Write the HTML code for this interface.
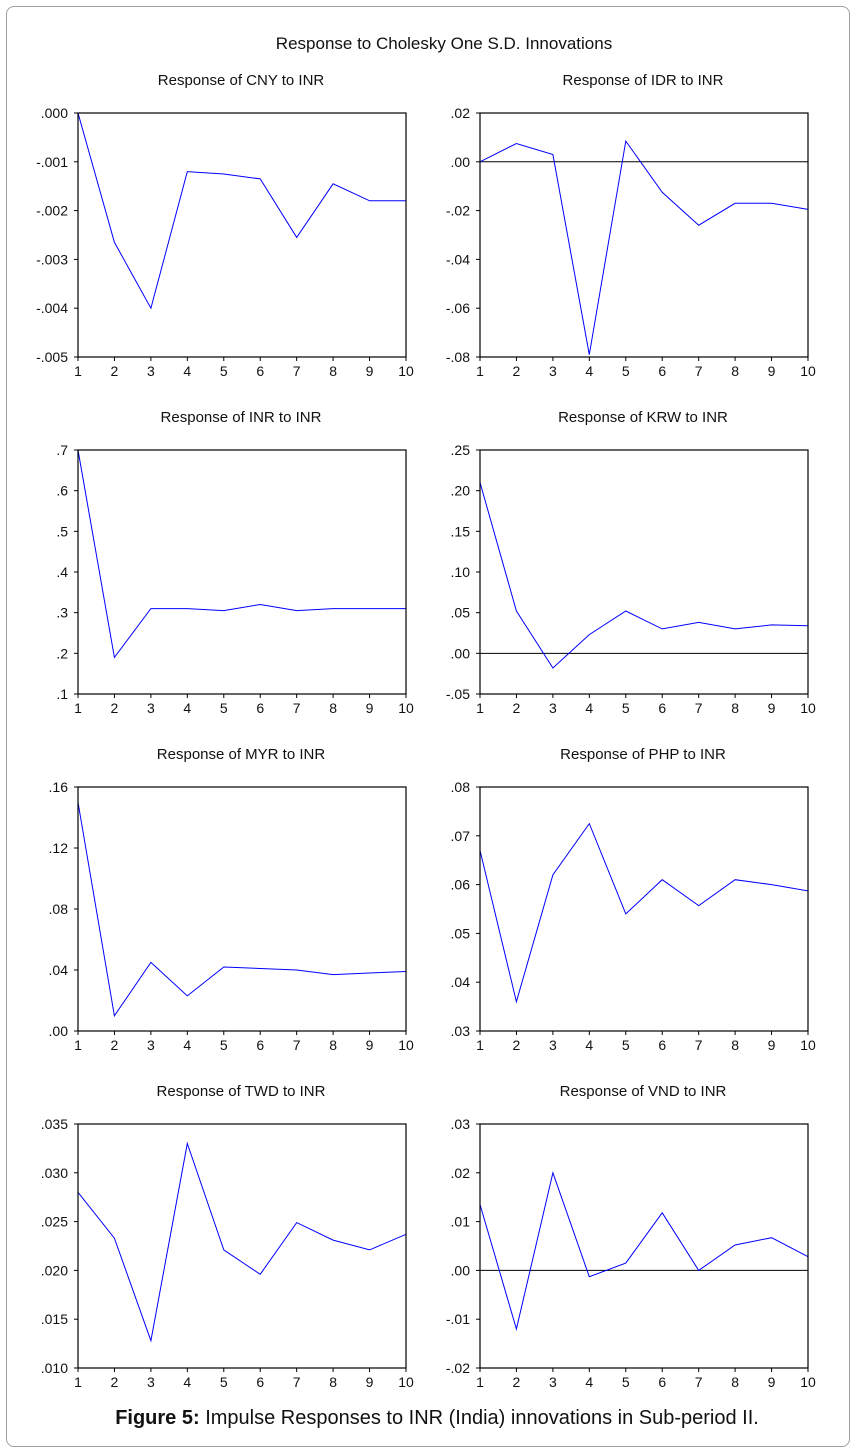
<!DOCTYPE html>
<html><head><meta charset="utf-8">
<style>
html,body{margin:0;padding:0;background:#fff;}
body{width:857px;height:1454px;position:relative;overflow:hidden;font-family:"Liberation Sans",Arial,sans-serif;}
#frame{position:absolute;left:6px;top:6px;width:844px;height:1441px;border:1px solid #a0a0a0;border-radius:8px;box-sizing:border-box;}
#caption{position:absolute;left:0;width:874px;top:1407px;text-align:center;font-size:20px;color:#111;}
</style></head>
<body>
<div id="frame"></div>
<svg id="chart" width="857" height="1454" style="position:absolute;left:0;top:0"></svg>
<div id="caption"><b>Figure 5:</b> Impulse Responses to INR (India) innovations in Sub-period II.</div>
<script>
const periods = [1,2,3,4,5,6,7,8,9,10];
const titles = ["Response of CNY to INR","Response of IDR to INR","Response of INR to INR","Response of KRW to INR","Response of MYR to INR","Response of PHP to INR","Response of TWD to INR","Response of VND to INR"];
const cnyValues = [0,-0.00265,-0.0040,-0.0012,-0.00125,-0.00135,-0.00255,-0.00145,-0.0018,-0.0018];
const idrValues = [0,0.0075,0.003,-0.079,0.0085,-0.0125,-0.026,-0.017,-0.017,-0.0195];
const inrValues = [0.70,0.19,0.31,0.31,0.305,0.32,0.305,0.31,0.31,0.31];
const krwValues = [0.21,0.052,-0.018,0.023,0.052,0.030,0.038,0.030,0.035,0.034];
const myrValues = [0.15,0.01,0.045,0.023,0.042,0.041,0.040,0.037,0.038,0.039];
const phpValues = [0.067,0.036,0.062,0.0725,0.054,0.061,0.0557,0.061,0.060,0.0587];
const twdValues = [0.028,0.0233,0.0128,0.033,0.0221,0.0196,0.0249,0.0231,0.0221,0.0237];
const vndValues = [0.0135,-0.012,0.020,-0.0013,0.0015,0.0118,0,0.0052,0.0067,0.0028];
const cnyTicks = [".000","-.001","-.002","-.003","-.004","-.005"];
const idrTicks = [".02",".00","-.02","-.04","-.06","-.08"];
const inrTicks = [".7",".6",".5",".4",".3",".2",".1"];
const krwTicks = [".25",".20",".15",".10",".05",".00","-.05"];
const myrTicks = [".16",".12",".08",".04",".00"];
const phpTicks = [".08",".07",".06",".05",".04",".03"];
const twdTicks = [".035",".030",".025",".020",".015",".010"];
const vndTicks = [".03",".02",".01",".00","-.01","-.02"];
const series = [cnyValues,idrValues,inrValues,krwValues,myrValues,phpValues,twdValues,vndValues];
const tickSets = [cnyTicks,idrTicks,inrTicks,krwTicks,myrTicks,phpTicks,twdTicks,vndTicks];
const names = ["cny","idr","inr","krw","myr","php","twd","vnd"];

const svg = document.getElementById('chart');
const NS = "http://www.w3.org/2000/svg";
function mk(tag, attrs, parent){const e=document.createElementNS(NS,tag);for(const k in attrs)e.setAttribute(k,attrs[k]);(parent||svg).appendChild(e);return e;}

const mainT = mk('text',{x:444,y:49,'text-anchor':'middle','font-size':17,fill:'#111'});
mainT.textContent = "Response to Cholesky One S.D. Innovations";



const lefts=[78,480], W=328, tops=[113,450,787,1124], H=244;
for(let i=0;i<8;i++){
  const L=lefts[i%2], T=tops[Math.floor(i/2)];
  const g=mk('g',{});
  
  
  const ticks=tickSets[i];
  const tv=ticks.map(s=>parseFloat(s.replace(/^(-?)\./,'$10.')));
  const ymax=tv[0], ymin=tv[tv.length-1];
  const y=v=>T+(ymax-v)/(ymax-ymin)*H;
  const x=p=>L+(p-1)/(periods.length-1)*W;
  const t=mk('text',{x:L+W/2-1,y:T-28,'text-anchor':'middle','font-size':15,fill:'#111'},g);
  t.textContent=titles[i];
  
  
  ticks.forEach((s,k)=>{
    const yy=y(tv[k]);
    mk('line',{x1:L-4,x2:L,y1:yy,y2:yy,stroke:'#000','stroke-width':1},g);
    const tl=mk('text',{x:L-10,y:yy+5,'text-anchor':'end','font-size':14,fill:'#111'},g);
    tl.textContent=s;
    
    
  });
  periods.forEach(p=>{
    mk('line',{x1:x(p),x2:x(p),y1:T+H,y2:T+H+4,stroke:'#000','stroke-width':1},g);
    const xl=mk('text',{x:x(p),y:T+H+19,'text-anchor':'middle','font-size':14,fill:'#111'},g);
    xl.textContent=p;
    
    
  });
  if(ymin<0 && ymax>0 && i!==0){
    const z=mk('line',{x1:L,x2:L+W,y1:y(0),y2:y(0),stroke:'#000','stroke-width':1},g);
    
    
  }
  const d=series[i].map((v,k)=>(k?'L':'M')+x(periods[k]).toFixed(1)+','+y(v).toFixed(1)).join(' ');
  const ln=mk('path',{d:d,fill:'none',stroke:'#0000ff','stroke-width':1},g);
  
  
  const box=mk('rect',{x:L,y:T,width:W,height:H,fill:'none',stroke:'#000','stroke-width':1.2},g);
  
  
}
</script>
</body></html>
